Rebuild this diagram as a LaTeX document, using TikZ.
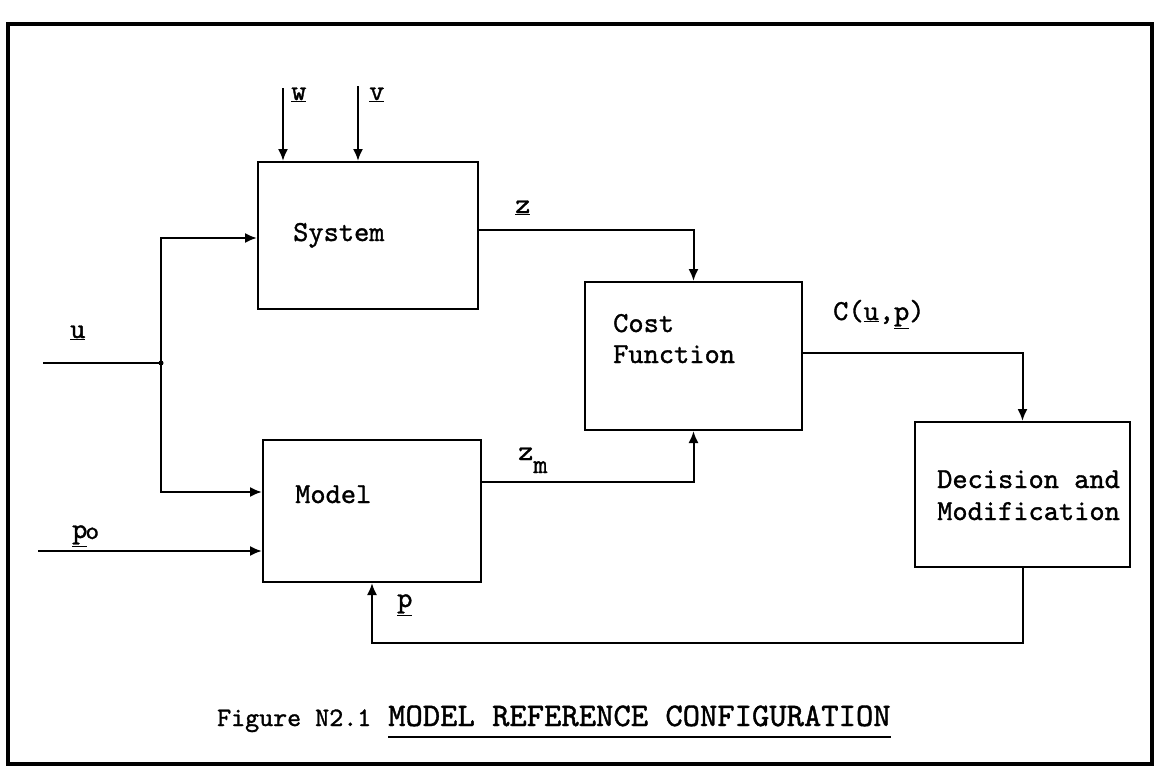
\documentclass[tikz,border=0pt]{standalone}
\usepackage{fontspec}
\newfontfamily\tw{lmmono10-regular.otf}[FakeBold=1.2]
\usetikzlibrary{arrows.meta}
\begin{document}
\begin{tikzpicture}[x=1pt,y=-1pt,
  blk/.style={draw, line width=2pt, inner sep=0pt},
  txt/.style={font=\fontsize{29}{35}\selectfont\tw, inner sep=0pt, anchor=base west},
  lbl/.style={font=\fontsize{29}{34}\selectfont\tw, inner sep=0pt, anchor=base west},
  wire/.style={line width=2pt},
  arr/.style={line width=2pt, -{Latex[length=12pt,width=10pt]}}]
\useasboundingbox (0,0) rectangle (1157,779);
% outer frame
\draw[line width=4.5pt] (8,24) rectangle (1152,764);
% blocks
\node[blk, minimum width=220pt, minimum height=147pt] (sys) at (368,235.5) {};
\node[blk, minimum width=218pt, minimum height=142pt] (mod) at (372,511) {};
\node[blk, minimum width=217pt, minimum height=148pt] (cost) at (693.5,356) {};
\node[blk, minimum width=215pt, minimum height=145pt] (dec) at (1022.5,494.5) {};
% block texts
\node[txt] (systxt) at (293,241) {System};
\node[txt] (modtxt) at (295,503) {Model};
\node[txt] (costtxt1) at (613,332) {Cost};
\node[txt] (costtxt2) at (613,363) {Function};
\node[txt] (dectxt1) at (937,488) {Decision and};
\node[txt] (dectxt2) at (937,520) {Modification};
% disturbance inputs
\coordinate (wtop) at (283,88);
\coordinate (vtop) at (358,86);
\draw[arr] (wtop) -- (sys.north -| wtop);
\draw[arr] (vtop) -- (sys.north -| vtop);
\node[lbl] (wl) at (291,100) {\underline{w}};
\node[lbl] (vl) at (369,100) {\underline{v}};
% input u
\coordinate (uin) at (43,363);
\coordinate (uj) at (161,363);
\draw[wire] (uin) -- (uj);
\fill (uj) circle (2.5pt);
\draw[arr] (uj) |- ([yshift=-2.5pt]sys.west);
\draw[arr] (uj) |- ([yshift=19pt]mod.west);
\node[lbl] (ul) at (70,338) {\underline{u}};
% input p0
\coordinate (p0in) at (38,551);
\draw[arr] (p0in) -- (mod.west |- p0in);
\node[lbl] (p0l) at (72,538) {\underline{p}\kern-2pt\raisebox{-1pt}{\fontsize{26}{28}\selectfont o}};
% z
\draw[arr] ([yshift=5.5pt]sys.east) -| (cost.north);
\node[lbl] (zl) at (515,213) {\underline{z}};
% z_m
\draw[arr] ([yshift=29pt]mod.east) -| (cost.south);
\node[lbl] (zml) at (518,460) {z\raisebox{-13pt}{\fontsize{27}{30}\selectfont m}};
% C(u,p)
\draw[arr] ([yshift=3pt]cost.east) -| (dec.north);
\node[lbl] (cl) at (833,320) {C(\underline{u},\underline{p})};
% feedback p
\draw[arr] (dec.south) -- ++(0,75) -| (mod.south);
\node[lbl] (pl) at (397,607) {\underline{p}};
% caption
\node[font=\fontsize{29}{34}\selectfont\tw, scale=0.92, transform shape, inner sep=0pt, anchor=base west] (cap1) at (217,726) {Figure N2.1};
\node[font=\fontsize{33}{37}\selectfont\tw, inner sep=0pt, anchor=base west] (cap2) at (388,726) {MODEL REFERENCE CONFIGURATION};
\draw[line width=2.2pt] (cap2.base west) ++(0,11) -- ([yshift=-11pt]cap2.base east);
\end{tikzpicture}
\end{document}
